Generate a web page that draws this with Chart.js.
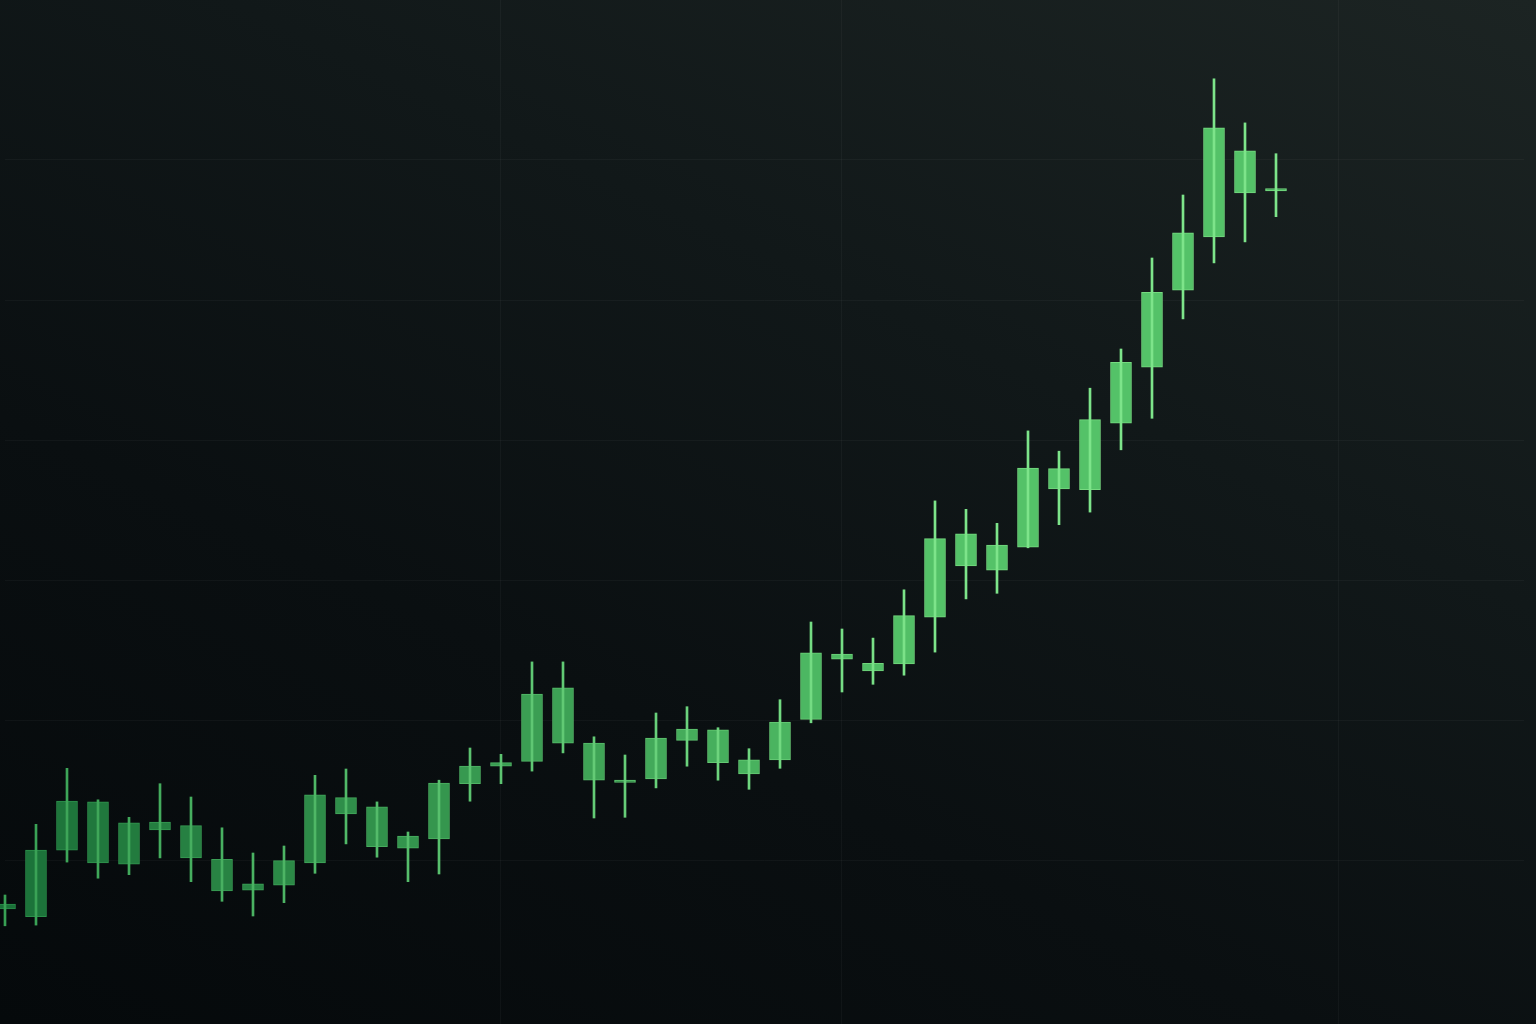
<!DOCTYPE html>
<html>
<head>
<meta charset="utf-8">
<script src="https://cdn.jsdelivr.net/npm/chart.js@4"></script>
<style>
    html, body {
        margin: 0;
        padding: 0;
        width: 1536px;
        height: 1024px;
        overflow: hidden;
        background: linear-gradient(205deg, #1c2423 0%, #111819 35%, #0a0f11 65%, #05090b 100%);
    }
    #wrap {
        position: relative;
        width: 1536px;
        height: 1024px;
    }
</style>
</head>
<body>
<div id="wrap"><canvas id="chartVelas"></canvas></div>
<script>
// Valores (42 velas, todas alcistas)
const apertura = [13.0, 11.9, 21.4, 19.6, 19.4, 24.3, 20.3, 15.6, 15.7, 16.4,
    19.6, 26.6, 21.9, 21.7, 23.0, 30.9, 33.4, 34.1, 36.7, 31.4,
    31.1, 31.6, 37.1, 33.9, 32.3, 34.3, 40.1, 48.7, 47.0, 48.0,
    54.7, 62.0, 61.4, 64.7, 73.0, 72.9, 82.4, 90.4, 101.4, 109.0,
    115.3, 115.6];
const cierre = [13.7, 21.4, 28.4, 28.3, 25.3, 25.4, 24.9, 20.1, 16.6, 19.9,
    29.3, 28.9, 27.6, 23.4, 31.0, 33.4, 33.9, 43.7, 44.6, 36.7,
    31.4, 37.4, 38.7, 38.6, 34.3, 39.7, 49.6, 49.4, 48.1, 54.9,
    65.9, 66.6, 65.0, 76.0, 75.9, 82.9, 91.1, 101.1, 109.6, 124.6,
    121.3, 115.9];
const maximo = [15.0, 25.1, 33.1, 28.6, 26.1, 30.9, 29.0, 24.6, 21.0, 22.0,
    32.1, 33.0, 28.3, 24.0, 31.4, 36.0, 35.1, 48.3, 48.3, 37.6,
    35.0, 41.0, 41.9, 38.9, 35.9, 42.9, 54.0, 53.0, 51.7, 58.6,
    71.3, 70.1, 68.1, 81.3, 78.4, 87.4, 93.0, 106.0, 115.0, 131.6,
    125.3, 120.9];
const minimo = [10.6, 10.7, 19.7, 17.4, 17.9, 20.3, 16.9, 14.1, 12.0, 13.9,
    18.1, 22.3, 20.4, 16.9, 18.0, 28.4, 30.9, 32.7, 35.3, 26.0,
    26.1, 30.3, 33.4, 31.4, 30.1, 33.1, 39.6, 44.0, 45.1, 46.4,
    49.7, 57.3, 58.1, 64.6, 67.9, 69.7, 78.6, 83.1, 97.3, 105.3,
    108.3, 111.9];

// Periodos del eje x (hay espacio libre a la derecha)
const totalPeriodos = 50;
const periodos = [];
for (let i = 1; i <= totalPeriodos; i++) periodos.push('P' + i);

// Líneas de la cuadrícula
const lineasVerticales = [16, 27, 43];
const valorMin = -24 / 7;
const valorMax = 1000 / 7;

// Color según la posición: más oscuro a la izquierda
function mezcla(c1, c2, t) {
    const r = Math.round(c1[0] + (c2[0] - c1[0]) * t);
    const g = Math.round(c1[1] + (c2[1] - c1[1]) * t);
    const b = Math.round(c1[2] + (c2[2] - c1[2]) * t);
    return `rgb(${r}, ${g}, ${b})`;
}

function avance(ctx) {
    return Math.min(1, ctx.dataIndex / (apertura.length - 12));
}

function colorCuerpo(ctx) {
    return mezcla([26, 112, 56], [84, 194, 104], avance(ctx));
}

function colorBorde(ctx) {
    return mezcla([40, 140, 72], [118, 218, 128], avance(ctx));
}

function colorMecha(ctx) {
    return mezcla([56, 160, 84], [125, 228, 138], avance(ctx));
}

const cuerpos = apertura.map((o, i) => [o, cierre[i]]);
const mechas = minimo.map((l, i) => [l, maximo[i]]);

const ctxVelas = document.getElementById('chartVelas').getContext('2d');
const chartVelas = new Chart(ctxVelas, {
    type: 'bar',
    data: {
        labels: periodos,
        datasets: [
            {
                label: 'Mecha',
                data: mechas,
                backgroundColor: colorMecha,
                barThickness: 2,
                grouped: false,
                order: 0,
                clip: false
            },
            {
                label: 'Cuerpo',
                data: cuerpos,
                backgroundColor: colorCuerpo,
                borderColor: colorBorde,
                borderWidth: 1,
                borderSkipped: false,
                barThickness: 21,
                grouped: false,
                order: 1,
                clip: false
            }
        ]
    },
    options: {
        responsive: true,
        maintainAspectRatio: false,
        animation: false,
        layout: {
            padding: { left: 5, right: 12, top: 0, bottom: 0 }
        },
        plugins: {
            legend: { display: false },
            tooltip: { enabled: false }
        },
        scales: {
            x: {
                offset: false,
                border: { display: false },
                ticks: { display: false },
                grid: {
                    drawTicks: false,
                    offset: false,
                    color: (c) => lineasVerticales.includes(c.index) ? 'rgba(255, 255, 255, 0.035)' : 'rgba(0, 0, 0, 0)'
                }
            },
            y: {
                min: valorMin,
                max: valorMax,
                border: { display: false },
                ticks: { display: false, stepSize: 20 },
                grid: {
                    drawTicks: false,
                    color: (c) => (c.tick.value >= 20 && c.tick.value <= 120) ? 'rgba(255, 255, 255, 0.035)' : 'rgba(0, 0, 0, 0)'
                }
            }
        }
    }
});
</script>
</body>
</html>
